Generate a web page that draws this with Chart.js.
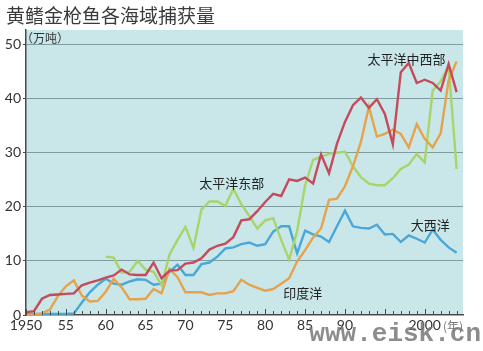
<!DOCTYPE html>
<html>
<head>
<meta charset="utf-8">
<script src="https://cdn.jsdelivr.net/npm/chart.js@4.4.1/dist/chart.umd.min.js"></script>
<style>
  html, body { margin: 0; padding: 0; background: #fff; }
  #wrap { width: 483px; height: 351px; }
</style>
</head>
<body>
<div id="wrap"><canvas id="chart" width="483" height="351"></canvas></div>
<script>
// Yellowfin tuna catch by ocean area (10k tonnes)
const years = [
    1950, 1951, 1952, 1953, 1954, 1955, 1956, 1957, 1958, 1959,
    1960, 1961, 1962, 1963, 1964, 1965, 1966, 1967, 1968, 1969,
    1970, 1971, 1972, 1973, 1974, 1975, 1976, 1977, 1978, 1979,
    1980, 1981, 1982, 1983, 1984, 1985, 1986, 1987, 1988, 1989,
    1990, 1991, 1992, 1993, 1994, 1995, 1996, 1997, 1998, 1999,
    2000, 2001, 2002, 2003, 2004
];

const westCentralPacific = [
    0.5, 0.7, 3.0, 3.7, 3.8, 3.9, 4.0, 5.5, 6.0, 6.4,
    6.9, 7.3, 8.4, 7.5, 7.4, 7.4, 9.7, 6.8, 8.2, 8.3,
    9.5, 9.7, 10.5, 12.1, 12.8, 13.2, 14.4, 17.5, 17.7, 19.2,
    20.9, 22.4, 22.0, 25.1, 24.8, 25.4, 24.3, 29.7, 26.2, 31.7,
    35.7, 38.8, 40.2, 38.3, 39.9, 37.2, 31.6, 44.9, 46.6, 42.9,
    43.5, 42.9, 41.5, 46.4, 41.2
];

const indianOcean = [
    0.0, 0.1, 0.3, 1.0, 3.5, 5.3, 6.4, 3.6, 2.5, 2.6,
    4.3, 6.7, 5.1, 2.9, 2.9, 3.0, 4.8, 4.0, 8.5, 7.0,
    4.2, 4.2, 4.2, 3.7, 4.0, 4.0, 4.4, 6.5, 5.6, 5.0,
    4.5, 4.8, 5.8, 6.8, 9.9, 12.0, 14.3, 16.0, 21.3, 21.5,
    23.8, 27.5, 32.0, 38.5, 33.0, 33.5, 34.3, 33.5, 31.0, 35.3,
    32.6, 31.0, 33.6, 43.4, 46.9
];

const eastPacific = [
    null, null, null, null, null, null, null, null, null, null,
    10.8, 10.6, 7.8, 8.0, 10.0, 8.4, 8.0, 5.5, 11.2, 13.9,
    16.3, 12.4, 19.5, 21.0, 21.0, 20.2, 23.3, 20.5, 18.3, 16.0,
    17.5, 17.9, 13.9, 10.2, 15.5, 24.0, 28.7, 29.3, 29.8, 30.0,
    30.2, 27.5, 25.5, 24.3, 24.0, 24.0, 25.3, 27.0, 27.8, 29.8,
    28.2, 41.5, 43.2, 46.0, 27.0
];

const atlantic = [
    0.2, 0.2, 0.2, 0.2, 0.2, 0.2, 0.3, 2.3, 4.2, 5.6,
    6.7, 5.8, 5.6, 6.2, 6.6, 6.5, 5.6, 5.8, 8.0, 9.3,
    7.4, 7.4, 9.4, 9.7, 10.8, 12.3, 12.5, 13.1, 13.4, 12.8,
    13.1, 15.4, 16.4, 16.4, 11.4, 15.6, 14.9, 14.5, 13.5, 16.4,
    19.3, 16.4, 16.1, 16.0, 16.7, 14.9, 15.0, 13.5, 14.7, 14.1,
    13.4, 15.8, 13.9, 12.5, 11.5
];

const yTicks = [0, 10, 20, 30, 40, 50];
const xLabels = { 1950: '1950', 1955: '55', 1960: '60', 1965: '65', 1970: '70', 1975: '75', 1980: '80', 1985: '85', 1990: '90', 2000: '2000' };

// name, x (year), y (value) for the in-chart series labels
const seriesLabels = [
    { text: '太平洋中西部', x: 1997.7, y: 47.4 },
    { text: '太平洋东部', x: 1975.8, y: 24.4 },
    { text: '印度洋', x: 1984.7, y: 4.1 },
    { text: '大西洋', x: 2000.7, y: 16.7 }
];

const COLORS = {
    red: '#c44a5c',
    orange: '#e4a34c',
    green: '#a8d46a',
    blue: '#4aa7d8',
    plotBg: '#c9e7e9',
    grid: '#7f9c9e',
    axis: '#4a4a4a',
    text: '#333333'
};

const toPoints = (values) => years.map((yr, i) => ({ x: yr, y: values[i] }));

const lineDataset = (label, values, color) => ({
    label: label,
    data: toPoints(values),
    borderColor: color,
    backgroundColor: color,
    borderWidth: 2.4,
    pointRadius: 0,
    tension: 0,
    spanGaps: false
});

// Plot background, year ticks, texts
const decorations = {
    id: 'decorations',
    beforeDraw(chart) {
        const { ctx, chartArea } = chart;
        ctx.save();
        ctx.fillStyle = COLORS.plotBg;
        ctx.fillRect(chartArea.left, chartArea.top, chartArea.right - chartArea.left, chartArea.bottom - chartArea.top);
        ctx.restore();
    },
    afterDraw(chart) {
        const { ctx, chartArea, scales } = chart;
        ctx.save();

        // small year ticks sitting on the x axis
        ctx.strokeStyle = COLORS.axis;
        ctx.lineWidth = 1;
        years.forEach(yr => {
            const px = Math.round(scales.x.getPixelForValue(yr)) + 0.5;
            const len = yr % 5 === 0 ? 6 : 4;
            ctx.beginPath();
            ctx.moveTo(px, chartArea.bottom - len);
            ctx.lineTo(px, chartArea.bottom);
            ctx.stroke();
        });

        // title
        ctx.fillStyle = '#3a3a3a';
        ctx.font = '19px "Noto Sans CJK SC"';
        ctx.textAlign = 'left';
        ctx.textBaseline = 'middle';
        ctx.fillText('黄鳍金枪鱼各海域捕获量', 6, 16);

        // unit
        ctx.fillStyle = COLORS.text;
        ctx.font = '12px "Noto Sans CJK SC"';
        ctx.fillText('（万吨）', chartArea.left - 5, chartArea.top + 8);

        // series labels
        ctx.font = '13px "Noto Sans CJK SC"';
        ctx.textAlign = 'center';
        ctx.fillStyle = '#222222';
        seriesLabels.forEach(l => {
            ctx.fillText(l.text, scales.x.getPixelForValue(l.x), scales.y.getPixelForValue(l.y));
        });

        // year unit
        ctx.font = '12px "Noto Sans CJK SC"';
        ctx.fillStyle = '#777777';
        ctx.textAlign = 'left';
        ctx.fillText('(年)', 443, 326);

        // watermark
        ctx.font = 'bold 26px "Liberation Mono"';
        ctx.fillStyle = 'rgba(120,120,120,0.85)';
        ctx.textAlign = 'right';
        ctx.fillText('www.eisk.cn', 481, 334);

        ctx.restore();
    }
};

const canvas = document.getElementById('chart');

new Chart(canvas, {
    type: 'line',
    data: {
        datasets: [
            lineDataset('太平洋中西部', westCentralPacific, COLORS.red),
            lineDataset('印度洋', indianOcean, COLORS.orange),
            lineDataset('太平洋东部', eastPacific, COLORS.green),
            lineDataset('大西洋', atlantic, COLORS.blue)
        ]
    },
    options: {
        responsive: false,
        animation: false,
        layout: {
            padding: { left: 0, right: 20, top: 30, bottom: 0 }
        },
        plugins: {
            legend: { display: false },
            title: { display: false },
            tooltip: { enabled: false }
        },
        scales: {
            x: {
                type: 'linear',
                min: 1950,
                max: 2004.8,
                afterBuildTicks: (scale) => {
                    scale.ticks = years.map(v => ({ value: v }));
                },
                afterFit: (scale) => {
                    scale.height = 36;
                },
                grid: { display: false, drawTicks: false, tickLength: 0 },
                border: { display: true, color: COLORS.axis, width: 1.5 },
                ticks: {
                    autoSkip: false,
                    maxRotation: 0,
                    padding: 2,
                    color: COLORS.text,
                    font: { family: 'Lato', size: 14 },
                    callback: (value) => xLabels[value] || ''
                }
            },
            y: {
                min: 0,
                max: 52.7,
                afterBuildTicks: (scale) => {
                    scale.ticks = yTicks.map(v => ({ value: v }));
                },
                afterFit: (scale) => {
                    scale.width = 26;
                },
                grid: {
                    color: (ctx) => ctx.tick && ctx.tick.value === 0 ? 'rgba(0,0,0,0)' : COLORS.grid,
                    lineWidth: 1,
                    drawTicks: true,
                    tickLength: 3,
                    tickColor: COLORS.axis
                },
                border: { display: true, color: COLORS.axis, width: 1.5 },
                ticks: {
                    padding: 2,
                    color: COLORS.text,
                    font: { family: 'Lato', size: 14 }
                }
            }
        }
    },
    plugins: [decorations]
});
</script>
</body>
</html>
